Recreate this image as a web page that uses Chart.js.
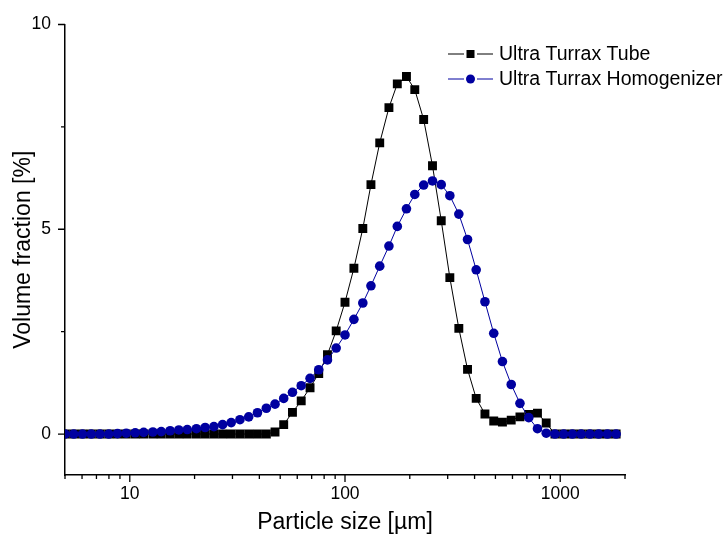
<!DOCTYPE html>
<html lang="en">
<head>
<meta charset="UTF-8">
<title>Particle size distribution</title>
<script src="https://cdn.jsdelivr.net/npm/chart.js"></script>
<style>
  html, body { margin: 0; padding: 0; background: #fff; }
  #wrap { width: 727px; height: 536px; }
</style>
</head>
<body>
<div id="wrap"><canvas id="psdChart" width="727" height="536"></canvas></div>
<script>
// size classes [µm]
const sizes = [5.00, 5.49, 6.03, 6.62, 7.27, 7.99, 8.77, 9.63, 10.6, 11.6, 12.8, 14.0,
  15.4, 16.9, 18.5, 20.4, 22.4, 24.6, 27.0, 29.6, 32.5, 35.7, 39.2, 43.1, 47.3, 51.9,
  57.0, 62.6, 68.8, 75.5, 82.9, 91.0, 100, 110, 121, 132, 145, 160, 175, 193, 211, 232,
  255, 280, 307, 338, 371, 407, 447, 491, 539, 592, 650, 714, 784, 861, 945, 1038, 1139,
  1251, 1374, 1509, 1657, 1819];

// volume fraction [%]
const tubeVolume = [0, 0, 0, 0, 0, 0, 0, 0, 0, 0, 0, 0,
  0, 0, 0, 0, 0, 0, 0, 0, 0, 0, 0, 0, 0.05, 0.23,
  0.53, 0.81, 1.13, 1.48, 1.94, 2.52, 3.22, 4.05, 5.02, 6.09, 7.11, 7.97, 8.55, 8.73, 8.41, 7.68,
  6.55, 5.21, 3.82, 2.58, 1.58, 0.87, 0.49, 0.32, 0.29, 0.34, 0.42, 0.48, 0.51, 0.27, 0, 0, 0,
  0, 0, 0, 0, 0];

const homogenizerVolume = [0, 0, 0, 0, 0, 0, 0.01, 0.02, 0.03, 0.04, 0.05, 0.06,
  0.08, 0.10, 0.11, 0.13, 0.16, 0.18, 0.23, 0.28, 0.35, 0.42, 0.52, 0.63, 0.73, 0.87,
  1.02, 1.18, 1.36, 1.57, 1.81, 2.10, 2.42, 2.80, 3.20, 3.62, 4.10, 4.59, 5.07, 5.50, 5.85, 6.08,
  6.18, 6.09, 5.82, 5.37, 4.75, 4.01, 3.23, 2.46, 1.77, 1.21, 0.75, 0.40, 0.13, 0.02, 0, 0, 0,
  0, 0, 0, 0, 0];

const seriesLabels = ['Ultra Turrax Tube', 'Ultra Turrax Homogenizer'];

const xTicks = [5, 6, 7, 8, 9, 10, 20, 30, 40, 50, 60, 70, 80, 90, 100,
  200, 300, 400, 500, 600, 700, 800, 900, 1000, 2000];
const xLabelled = [10, 100, 1000];
const yTicks = [0, 2.5, 5, 7.5, 10];
const yLabelled = [0, 5, 10];

const FONT = "'Liberation Sans', Arial, sans-serif";
const NAVY = '#0000a0';

// tick marks (long for labelled, short otherwise) and the Origin-style legend
const decor = {
  id: 'decor',
  afterDraw(chart) {
    const { ctx, chartArea: a, scales: { x, y } } = chart;
    ctx.save();
    ctx.strokeStyle = '#000';
    ctx.lineWidth = 1.3;
    ctx.beginPath();
    xTicks.forEach(v => {
      const px = x.getPixelForValue(v);
      const len = xLabelled.includes(v) ? 7 : 4;
      ctx.moveTo(px, a.bottom);
      ctx.lineTo(px, a.bottom + len);
    });
    yTicks.forEach(v => {
      const py = y.getPixelForValue(v);
      const len = yLabelled.includes(v) ? 7 : 4;
      ctx.moveTo(a.left, py);
      ctx.lineTo(a.left - len, py);
    });
    ctx.stroke();

    // legend
    const rows = [
      { y: 54, color: '#000', style: 'rect' },
      { y: 79, color: NAVY, style: 'circle' }
    ];
    ctx.font = '19.5px ' + FONT;
    ctx.textBaseline = 'middle';
    rows.forEach((r, i) => {
      ctx.strokeStyle = r.color;
      ctx.fillStyle = r.color;
      ctx.lineWidth = 1;
      ctx.beginPath();
      ctx.moveTo(448, r.y); ctx.lineTo(464, r.y);
      ctx.moveTo(477, r.y); ctx.lineTo(493, r.y);
      ctx.stroke();
      if (r.style === 'rect') {
        ctx.fillRect(466.5, r.y - 4, 8, 8);
      } else {
        ctx.beginPath();
        ctx.arc(470.5, r.y, 4.5, 0, Math.PI * 2);
        ctx.fill();
      }
      ctx.fillStyle = '#000';
      ctx.fillText(chart.data.datasets[i].label, 499, r.y + 1);
    });
    ctx.restore();
  }
};

const ctx = document.getElementById('psdChart').getContext('2d');
new Chart(ctx, {
  type: 'line',
  data: {
    datasets: [
      {
        label: seriesLabels[0],
        data: sizes.map((s, i) => ({ x: s, y: tubeVolume[i] })),
        borderColor: '#000',
        backgroundColor: '#000',
        borderWidth: 1,
        pointStyle: 'rect',
        pointRadius: 6.3,
        pointBorderWidth: 0,
        tension: 0,
        order: 2
      },
      {
        label: seriesLabels[1],
        data: sizes.map((s, i) => ({ x: s, y: homogenizerVolume[i] })),
        borderColor: NAVY,
        backgroundColor: NAVY,
        borderWidth: 1,
        pointStyle: 'circle',
        pointRadius: 4.8,
        pointBorderWidth: 0,
        tension: 0,
        order: 1
      }
    ]
  },
  options: {
    responsive: false,
    animation: false,
    layout: { padding: { top: 24, right: 102, left: 0, bottom: 0 } },
    plugins: {
      legend: { display: false },
      tooltip: { enabled: false }
    },
    scales: {
      x: {
        type: 'logarithmic',
        min: 5,
        max: 2000,
        afterBuildTicks: s => { s.ticks = xTicks.map(v => ({ value: v })); },
        afterFit: s => { s.height = 61; },
        grid: { display: true, drawOnChartArea: false, drawTicks: false },
        border: { display: true, color: '#000', width: 1.5 },
        ticks: {
          autoSkip: false,
          maxRotation: 0,
          padding: 9,
          color: '#000',
          font: { family: FONT, size: 17.5 },
          callback: v => xLabelled.includes(v) ? String(v) : ''
        },
        title: {
          display: true,
          text: 'Particle size [µm]',
          color: '#000',
          font: { family: FONT, size: 23 },
          padding: { top: 0, bottom: 0 }
        }
      },
      y: {
        min: -1,
        max: 10,
        afterBuildTicks: s => { s.ticks = yTicks.map(v => ({ value: v })); },
        afterFit: s => { s.width = 65; },
        grid: { display: true, drawOnChartArea: false, drawTicks: false },
        border: { display: true, color: '#000', width: 1.5 },
        ticks: {
          padding: 14,
          color: '#000',
          font: { family: FONT, size: 17.5 },
          callback: v => yLabelled.includes(v) ? String(v) : ''
        },
        title: {
          display: true,
          text: 'Volume fraction [%]',
          color: '#000',
          font: { family: FONT, size: 23 },
          padding: { top: 10, bottom: 0 }
        }
      }
    }
  },
  plugins: [decor]
});
</script>
</body>
</html>
